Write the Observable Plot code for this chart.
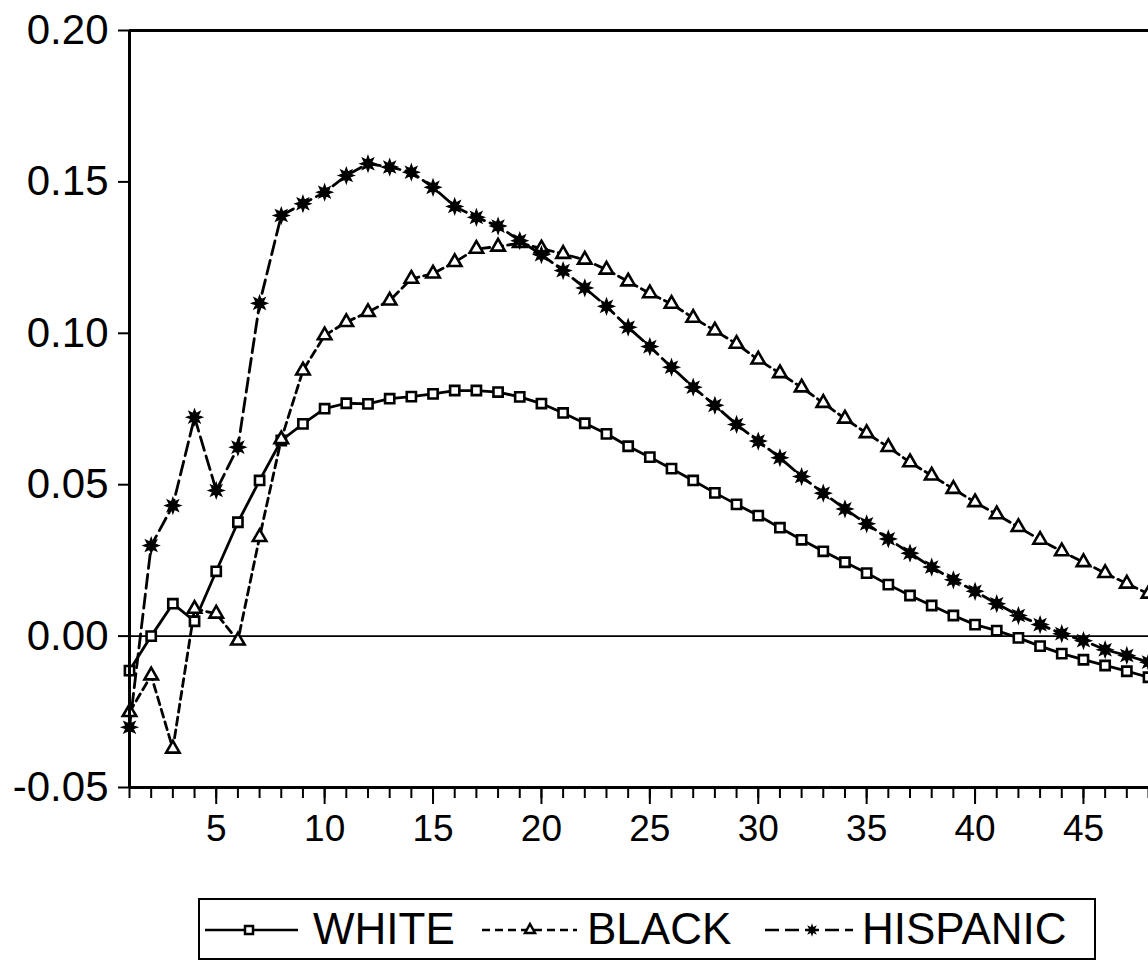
<!DOCTYPE html>
<html>
<head>
<meta charset="utf-8">
<script src="https://cdn.jsdelivr.net/npm/d3@7"></script>
<script src="https://cdn.jsdelivr.net/npm/@observablehq/plot@0.6"></script>
<style>
  html, body { margin: 0; padding: 0; background: #fff; overflow: hidden; }
  #wrap { position: relative; width: 1148px; height: 963px; font-family: "Liberation Sans", Arial, sans-serif; }
  #chart { position: absolute; left: 0; top: 0; }
  #legend { position: absolute; left: 198px; top: 898px; width: 898px; height: 62px; border: 2px solid #000; box-sizing: border-box; background: #fff; }
  .lab { position: absolute; top: 7px; font-size: 44px; line-height: 1; color: #000; white-space: nowrap; }
  .sym { position: absolute; top: 20px; }
</style>
</head>
<body>
<div id="wrap">
  <div id="chart"></div>
  <div id="legend">
    <svg class="sym" style="left:5px" width="95" height="20" viewBox="0 0 95 20">
      <line x1="0" y1="10" x2="93" y2="10" stroke="#000" stroke-width="2.5"/>
      <rect x="40" y="6" width="8" height="8" fill="#fff" stroke="#000" stroke-width="2.5"/>
    </svg>
    <span class="lab" style="left:113px">WHITE</span>
    <svg class="sym" style="left:282px" width="97" height="20" viewBox="0 0 97 20">
      <line x1="0" y1="10" x2="95" y2="10" stroke="#000" stroke-width="2.5" stroke-dasharray="8,5"/>
      <path d="M48,4 L53,13 L43,13 Z" fill="#fff" stroke="#000" stroke-width="2.5"/>
    </svg>
    <span class="lab" style="left:387px">BLACK</span>
    <svg class="sym" style="left:565px" width="90" height="20" viewBox="0 0 90 20">
      <line x1="0" y1="10" x2="88" y2="10" stroke="#000" stroke-width="2.5" stroke-dasharray="14,6"/>
      <path id="legstar" fill="#000"/>
    </svg>
    <span class="lab" style="left:662px">HISPANIC</span>
  </div>
</div>
<script>
// ---- data ----
const periods = [1,2,3,4,5,6,7,8,9,10,11,12,13,14,15,16,17,18,19,20,21,22,23,24,25,26,27,28,29,30,31,32,33,34,35,36,37,38,39,40,41,42,43,44,45,46,47,48];

const white = [-0.0114, 0.0000, 0.0107, 0.0049, 0.0214, 0.0376, 0.0514, 0.0646, 0.0701, 0.0751,
  0.0769, 0.0767, 0.0784, 0.0791, 0.0800, 0.0811, 0.0811, 0.0806, 0.0790, 0.0768,
  0.0737, 0.0703, 0.0668, 0.0627, 0.0591, 0.0553, 0.0514, 0.0473, 0.0435, 0.0398,
  0.0358, 0.0318, 0.0280, 0.0244, 0.0208, 0.0170, 0.0134, 0.0101, 0.0068, 0.0038,
  0.0018, -0.0006, -0.0033, -0.0058, -0.0078, -0.0097, -0.0116, -0.0136];

const black = [-0.0251, -0.0130, -0.0372, 0.0090, 0.0074, -0.0015, 0.0327, 0.0650, 0.0877, 0.0993,
  0.1037, 0.1070, 0.1108, 0.1180, 0.1197, 0.1235, 0.1279, 0.1286, 0.1298, 0.1280,
  0.1262, 0.1243, 0.1210, 0.1171, 0.1132, 0.1097, 0.1051, 0.1009, 0.0965, 0.0913,
  0.0868, 0.0821, 0.0770, 0.0718, 0.0670, 0.0624, 0.0574, 0.0530, 0.0486, 0.0442,
  0.0402, 0.0360, 0.0318, 0.0280, 0.0244, 0.0208, 0.0173, 0.0140];

const hispanic = [-0.0301, 0.0299, 0.0431, 0.0723, 0.0481, 0.0624, 0.1099, 0.1389, 0.1428, 0.1466,
  0.1521, 0.1560, 0.1549, 0.1532, 0.1482, 0.1419, 0.1383, 0.1354, 0.1306, 0.1260,
  0.1207, 0.1150, 0.1089, 0.1020, 0.0956, 0.0888, 0.0822, 0.0762, 0.0699, 0.0644,
  0.0589, 0.0527, 0.0472, 0.0420, 0.0371, 0.0321, 0.0274, 0.0228, 0.0186, 0.0148,
  0.0107, 0.0068, 0.0038, 0.0008, -0.0015, -0.0045, -0.0064, -0.0086];

const yTicks = [-0.05, 0.00, 0.05, 0.10, 0.15, 0.20];
const xLabelTicks = [5, 10, 15, 20, 25, 30, 35, 40, 45];

// ---- build ----
const rows = (vals) => periods.map((p, i) => ({x: p, y: vals[i]}));
const W = rows(white), B = rows(black), H = rows(hispanic);

const star = {
  draw(context, size) {
    const R = Math.sqrt(size / Math.PI) * 1.35, r = R * 0.5, n = 8;
    for (let i = 0; i < 2 * n; i++) {
      const a = Math.PI * i / n - Math.PI / 2;
      const rr = i % 2 ? r : R;
      const px = rr * Math.cos(a), py = rr * Math.sin(a);
      if (i === 0) context.moveTo(px, py); else context.lineTo(px, py);
    }
    context.closePath();
  }
};

// legend star path
{
  const p = d3.path();
  star.draw(p, Math.PI * 25);
  const el = document.getElementById("legstar");
  el.setAttribute("d", p.toString());
  el.setAttribute("transform", "translate(47,10)");
}

const chart = Plot.plot({
  width: 1148,
  height: 870,
  marginLeft: 129,
  marginRight: 0,
  marginTop: 30,
  marginBottom: 83,
  style: {fontFamily: "'Liberation Sans', Arial, sans-serif", color: "#000", background: "#fff"},
  x: {domain: [1, 48], label: null},
  y: {domain: [-0.05, 0.20], label: null},
  marks: [
    Plot.ruleY([0], {stroke: "#000", strokeWidth: 1.8}),
    Plot.line(W, {x: "x", y: "y", stroke: "#000", strokeWidth: 2.8}),
    Plot.line(B, {x: "x", y: "y", stroke: "#000", strokeWidth: 2.8, strokeDasharray: "8,5"}),
    Plot.line(H, {x: "x", y: "y", stroke: "#000", strokeWidth: 2.8, strokeDasharray: "14,6"}),
    Plot.dot(W, {x: "x", y: "y", symbol: "square", r: 5.2, fill: "#fff", stroke: "#000", strokeWidth: 2.6}),
    Plot.dot(B, {x: "x", y: "y", symbol: "triangle", r: 5, fill: "#fff", stroke: "#000", strokeWidth: 2.6}),
    Plot.dot(H, {x: "x", y: "y", symbol: star, r: 5.8, fill: "#000", stroke: "#000", strokeWidth: 1.2}),
    Plot.ruleX([1], {stroke: "#000", strokeWidth: 3}),
    Plot.ruleY([-0.05], {stroke: "#000", strokeWidth: 3}),
    Plot.ruleY([0.20], {stroke: "#000", strokeWidth: 3}),
    Plot.axisY({ticks: yTicks, tickFormat: (d) => d.toFixed(2), tickSize: 11, tickPadding: 10, fontSize: 42, strokeWidth: 2, label: null}),
    Plot.axisX({ticks: periods, tickSize: 11, text: null, strokeWidth: 2, label: null}),
    Plot.axisX({ticks: xLabelTicks, tickSize: 17, tickPadding: 10, fontSize: 37, strokeWidth: 2, label: null})
  ]
});
document.getElementById("chart").appendChild(chart);
</script>
</body>
</html>
